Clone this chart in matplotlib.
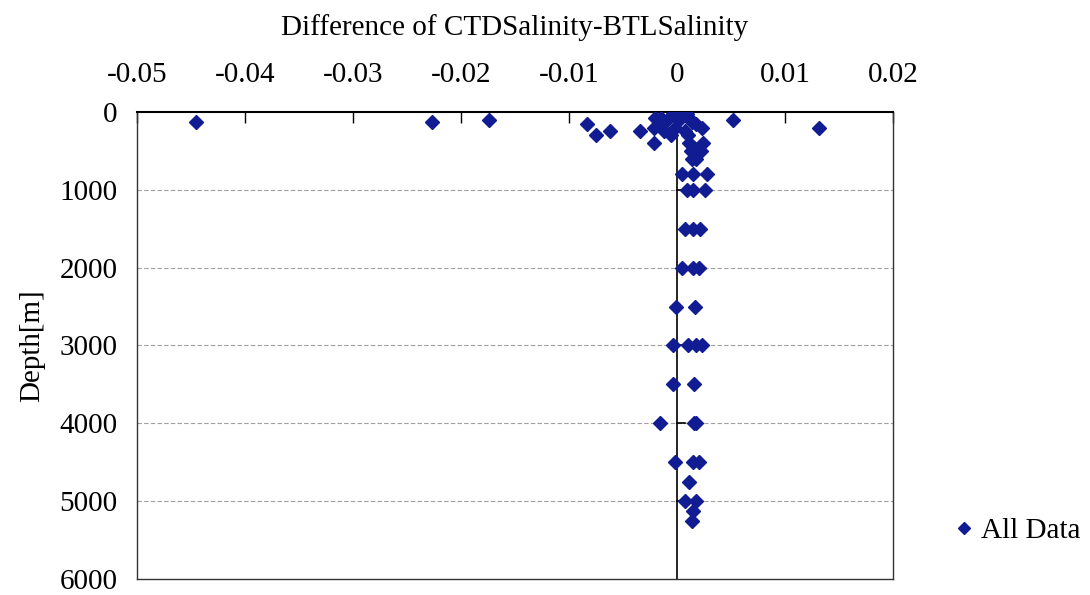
import matplotlib
matplotlib.use('Agg')
import matplotlib.pyplot as plt
import numpy as np

plt.rcParams['font.family'] = ['Liberation Serif', 'DejaVu Serif']

# salinity difference (CTD - bottle) and depth of each sample
diff = [-0.0445, -0.0227, -0.0174, -0.0083, -0.0075, -0.0062, -0.0034, -0.0021,
        0.0052, 0.0131,
        -0.0020, -0.0015, -0.0021, -0.0014, -0.0012, -0.0009, -0.0006, -0.0004,
        0.0003, 0.0006, 0.0009, 0.0002, -0.0002, 0.0011, 0.0014, 0.0018,
        0.0023, 0.0007, 0.0010, 0.0011, 0.0024, 0.0015, 0.0013, 0.0022,
        0.0017, 0.0014, 0.0018,
        0.0005, 0.0015, 0.0028,
        0.0009, 0.0015, 0.0026,
        0.0007, 0.0015, 0.0021,
        0.0005, 0.0015, 0.0020,
        -0.0001, 0.0017,
        -0.0004, 0.0010, 0.0018, 0.0023,
        -0.0004, 0.0016,
        -0.0016, 0.0016, 0.0018,
        -0.0002, 0.0015, 0.0020,
        0.0011,
        0.0007, 0.0018,
        0.0015,
        0.0014]
depth = [130, 130, 100, 150, 300, 250, 250, 400,
         100, 200,
         75, 75, 200, 150, 250, 100, 300, 25,
         10, 10, 25, 100, 200, 75, 125, 150,
         200, 250, 300, 400, 400, 450, 500, 500,
         550, 600, 600,
         800, 800, 800,
         1000, 1000, 1000,
         1500, 1500, 1500,
         2000, 2000, 2000,
         2500, 2500,
         3000, 3000, 3000, 3000,
         3500, 3500,
         4000, 4000, 4000,
         4500, 4500, 4500,
         4750,
         5000, 5000,
         5125,
         5250]

xticks = [-0.05, -0.04, -0.03, -0.02, -0.01, 0, 0.01, 0.02]
xlabels = ['-0.05', '-0.04', '-0.03', '-0.02', '-0.01', '0', '0.01', '0.02']
yticks = [0, 1000, 2000, 3000, 4000, 5000, 6000]

fs = 21

fig = plt.figure(figsize=(10.9, 5.95), dpi=100)
ax = fig.add_axes([0.1257, 0.0269, 0.6936, 0.7849])

ax.plot(diff, depth, linestyle='none', marker='D', markersize=6.8,
        color='#111c92', label='All Data', zorder=3)

ax.set_xlim(-0.05, 0.02)
ax.set_ylim(6000, 0)
ax.set_xticks(xticks)
ax.set_xticklabels(xlabels)
ax.set_yticks(yticks)

ax.xaxis.set_ticks_position('top')
ax.xaxis.set_label_position('top')
ax.tick_params(axis='x', direction='in', length=8, width=1, pad=17,
               labelsize=fs, colors='black')
ax.tick_params(axis='y', direction='in', length=0, pad=14, labelsize=fs)

for s in ax.spines.values():
    s.set_color('#333333')
    s.set_linewidth(1)
ax.spines['top'].set_color('black')
ax.spines['top'].set_linewidth(1.5)

# dashed grid
for y in yticks[1:-1]:
    ax.axhline(y, color='#a0a0a0', linestyle=(0, (4, 2)), linewidth=0.8, zorder=1)

# vertical axis crossing at zero with small ticks
ax.axvline(0, color='black', linewidth=1.2, zorder=2)
for y in yticks[1:-1]:
    ax.plot([0, 0.0007], [y, y], color='black', linewidth=1.2, zorder=2)

ax.set_xlabel('Difference of CTDSalinity-BTLSalinity', fontsize=fs, labelpad=20)
ax.set_ylabel('Depth[m]', fontsize=fs, labelpad=10)

fig.legend(loc='center left', bbox_to_anchor=(952 / 1090, 1 - 531 / 595),
           frameon=False, fontsize=fs, handlelength=0.8, handletextpad=0.2,
           borderpad=0, borderaxespad=0, markerscale=0.85)

fig.savefig('out.png', dpi=100)
